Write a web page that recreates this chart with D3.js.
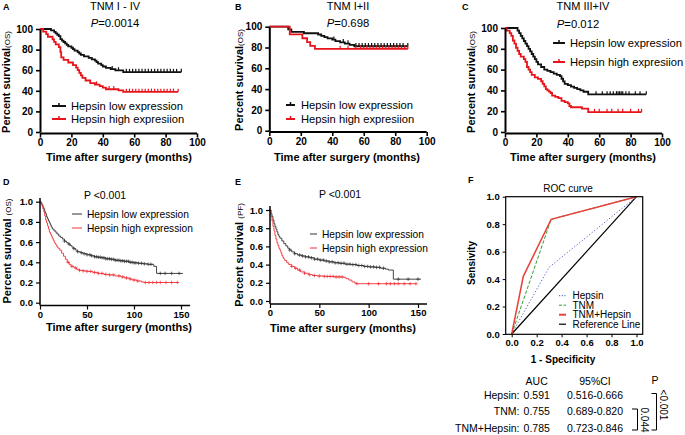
<!DOCTYPE html>
<html><head><meta charset="utf-8">
<script src="https://cdn.jsdelivr.net/npm/d3@7"></script>
<style>body{margin:0;background:#fff}svg{display:block}text{font-family:"Liberation Sans",Arial,sans-serif}</style>
</head><body><svg id="c" width="685" height="435"></svg>
<script>
// ---------- DATA ----------
const legendLabelsTop = ["Hepsin low expression", "Hepsin high expresiion"];
const legendLabelsBottom = ["Hepsin low expression", "Hepsin high expression"];
const titlesTop = ["TNM I - IV", "TNM I+II", "TNM III+IV"];
const pTop = ["0.0014", "0.698", "0.012"];
const pBottom = ["P <0.001", "P <0.001"];
const ticksTopX = [0, 20, 40, 60, 80, 100];
const ticksTopY = [0, 20, 40, 60, 80, 100];
const ticksBottomX = [0, 50, 100, 150];
const ticksUnitY = [0, 0.2, 0.4, 0.6, 0.8, 1.0];

// Panel A  [time (months), survival %]
const aLow = [[0,100],[7,98.6],[9,97.2],[10,95.8],[11,94.4],[12,93],[13,90.2],[14,88.8],[15,87.4],[16,86],[17,84.6],[18,83.2],[20,81.8],[21,80.4],[22,79],[24,77.6],[25,76.2],[26,74.8],[28,73.4],[31,72],[33,70.6],[35,69.2],[36,67.8],[37,66.4],[39,65],[40,63.6],[42,62.2],[45,61],[48,59.8],[53,58.2]];
const aLowEnd = 90;
const aLowCensor = [46,50,55,57,59,61,63,65,67,69,71,73,75,77,79,81,83,85,87,90];
const aHigh = [[0,100],[2,97.5],[4,95],[5,92.5],[8,90],[9,87.5],[10,85],[12,82.5],[13,77.5],[13.5,72.5],[15,70],[18,67.5],[21,65],[23,62.5],[24,60],[25,57.5],[26,55],[27,52.5],[29,50],[32,47.5],[35,46],[38,44.5],[40,43],[42,41.5],[50,40.5],[53,39]];
const aHighEnd = 88;
const aHighCensor = [36,44,47,55,57,59,61,63,65,67,69,71,73,75,77,79,81,83,85,88];

// Panel B
const bLow = [[0,100],[12,97.5],[14,95],[22,93.7],[31,92.5],[33,91.2],[35,90],[37,88.8],[40,87.5],[42,86.2],[45,85],[48,83.8],[51,82.5],[54,81.2]];
const bLowEnd = 88;
const bLowCensor = [41,47,50,55,57,59,61,63,65,67,69,71,73,75,77,79,81,83,85,88];
const bHigh = [[0,100],[13,92.6],[21,88.9],[24,85.2],[26,81.5],[29,78.6]];
const bHighEnd = 88;
const bHighCensor = [45,50,55,58,60,62,64,66,68,70,72,74,76,78,80,82,84,86,88];

// Panel C
const cLow = [[0,100],[8,97.5],[9,95],[10,92.5],[11,90],[12,87.5],[13,85],[14,82.5],[15,80],[16,77.5],[17,75],[18,72.5],[19,70],[20,67.5],[21,65],[23,62.5],[25,60],[27,58.7],[29,57.5],[31,56.2],[33,55],[35,53.7],[36,51.2],[37,48.7],[38,46.2],[40,45],[42,43.7],[44,42.5],[46,41.2],[48,40],[50,38.7],[53,36.2]];
const cLowEnd = 90;
const cLowCensor = [58,62,65,67,69,71,72,73,74,75,77,79,83,86,90];
const cHigh = [[0,100],[1,97.5],[3,95],[4,92.5],[5,88],[6,85],[7,81],[8,78],[9,75],[10,72.5],[12,70],[13,67.5],[14,62.5],[15,60],[16,57.5],[17,55],[19,52.5],[21,51],[23,48.8],[24,46.3],[25,43.8],[26,41.3],[27,40],[28,38.8],[29,37.5],[30,35],[32,33.8],[34,32.5],[36,30],[38,28.8],[40,27.5],[41,25],[42,23.8],[49,22.5],[53,19.2]];
const cHighEnd = 87;
const cHighCensor = [57,60,65,68,72,75,80,85,87];

// Panel D  [time, survival fraction]
const dLow = [[0,1.0],[1,0.99],[2,0.97],[3,0.95],[4,0.93],[5,0.90],[6,0.88],[7,0.85],[8,0.83],[9,0.81],[10,0.79],[11,0.77],[12,0.75],[13,0.735],[14,0.72],[16,0.70],[18,0.68],[20,0.66],[22,0.645],[24,0.63],[26,0.61],[28,0.595],[30,0.58],[32,0.565],[34,0.55],[36,0.535],[38,0.52],[40,0.505],[43,0.495],[46,0.485],[50,0.475],[54,0.465],[58,0.455],[62,0.45],[66,0.445],[70,0.435],[75,0.43],[80,0.42],[85,0.415],[90,0.41],[95,0.40],[100,0.395],[105,0.39],[110,0.385],[115,0.38],[121,0.36],[124,0.29]];
const dLowEnd = 152;
const dLowCensor = [26,31,36,40,44,47,50,53,55,58,60,62,64,66,68,70,72,74,76,78,80,82,84,86,88,90,92,94,96,98,100,102,105,108,111,115,118,128,133,140,148];
const dHigh = [[0,1.0],[1,0.98],[2,0.96],[3,0.93],[4,0.90],[5,0.86],[6,0.82],[7,0.79],[8,0.76],[9,0.73],[10,0.70],[11,0.68],[12,0.66],[13,0.64],[14,0.62],[15,0.60],[16,0.585],[17,0.57],[18,0.555],[19,0.54],[21,0.52],[23,0.49],[25,0.46],[27,0.43],[29,0.40],[31,0.38],[33,0.36],[36,0.345],[39,0.33],[42,0.32],[46,0.315],[50,0.31],[56,0.30],[62,0.29],[68,0.28],[74,0.275],[80,0.265],[86,0.255],[90,0.245],[95,0.235],[98,0.225],[103,0.215],[108,0.205],[111,0.20]];
const dHighEnd = 148;
const dHighCensor = [30,34,38,42,46,50,54,58,62,66,70,74,78,84,88,92,96,100,104,112,116,120,124,128,134,140,146];

// Panel E
const eLow = [[0,1.0],[1,0.96],[2,0.93],[3,0.89],[4,0.85],[5,0.82],[6,0.79],[7,0.76],[8,0.73],[9,0.71],[10,0.69],[12,0.66],[14,0.63],[16,0.605],[18,0.58],[20,0.56],[22,0.54],[25,0.52],[28,0.505],[32,0.495],[36,0.485],[40,0.475],[45,0.46],[50,0.45],[55,0.44],[60,0.43],[65,0.42],[70,0.415],[76,0.405],[82,0.40],[88,0.39],[95,0.38],[100,0.375],[106,0.37],[112,0.36],[117,0.35],[120,0.34],[125,0.24]];
const eLowEnd = 153;
const eLowCensor = [20,25,30,33,36,39,42,45,48,51,54,57,60,63,66,69,72,75,78,81,84,87,90,93,96,99,102,105,108,111,115,130,140,150];
const eHigh = [[0,1.0],[1,0.93],[2,0.88],[3,0.82],[4,0.77],[5,0.72],[6,0.68],[7,0.64],[8,0.61],[9,0.58],[10,0.56],[11,0.53],[12,0.50],[13,0.48],[14,0.46],[15,0.445],[17,0.42],[19,0.40],[22,0.38],[25,0.36],[28,0.34],[31,0.32],[35,0.305],[39,0.29],[43,0.28],[48,0.275],[55,0.27],[65,0.265],[74,0.26],[77,0.245],[80,0.23],[83,0.21],[86,0.195],[88,0.19]];
const eHighEnd = 148;
const eHighCensor = [22,26,30,35,40,45,50,55,58,61,64,67,70,73,88,100,110,118,122,126,130,136,142,148];

// Panel F  ROC  [1-specificity, sensitivity]
const rocHepsin = [[0,0],[0.30,0.486],[1,1]];
const rocTNM = [[0,0],[0.316,0.835],[1,1]];
const rocBoth = [[0,0],[0.093,0.42],[0.316,0.835],[1,1]];
const rocRef = [[0,0],[1,1]];
const rocLegend = ["Hepsin", "TNM", "TNM+Hepsin", "Reference Line"];
const tableHeader = ["AUC", "95%CI", "P"];
const tableRows = ["Hepsin:", "TNM:", "TNM+Hepsin:"];
const tableAUC = ["0.591", "0.755", "0.785"];
const tableCI = ["0.516-0.666", "0.689-0.820", "0.723-0.846"];
const pSmall = "0.044", pBig = "<0.001";

// ---------- DRAW ----------
const svg = d3.select('#c');
const RED = '#e8141c';
const BLK = '#111';

function survAt(steps, t){ let s = steps[0][1]; for (const p of steps) if (p[0] <= t) s = p[1]; return s; }

function kmPanel(o){
  const g = svg.append('g');
  const x = d3.scaleLinear().domain(o.xDomain).range(o.xRange);
  const y = d3.scaleLinear().domain(o.yDomain).range(o.yRange);
  const line = d3.line().x(d => x(d[0])).y(d => y(d[1])).curve(d3.curveStepAfter);
  o.series.forEach(s => {
    const pts = s.steps.concat([[s.end, s.steps[s.steps.length-1][1]]]);
    g.append('path').attr('d', line(pts)).attr('fill','none').attr('stroke', s.color).attr('stroke-width', o.lw);
    s.censor.forEach(t => {
      const cx = x(t), cy = y(survAt(s.steps, t));
      if (o.plus) {
        g.append('path').attr('d', `M${cx-1.8},${cy}H${cx+1.8}M${cx},${cy-1.8}V${cy+1.8}`).attr('stroke', s.color).attr('stroke-width', 0.7);
      } else {
        g.append('line').attr('x1',cx).attr('x2',cx).attr('y1',cy-3.2).attr('y2',cy).attr('stroke', s.color).attr('stroke-width', 1.2);
      }
    });
  });
  // axes
  const xa = d3.axisBottom(x).tickValues(o.xTicks).tickSize(4).tickSizeOuter(0).tickFormat(o.xFmt || d3.format('d'));
  const ya = d3.axisLeft(y).tickValues(o.yTicks).tickSize(4).tickSizeOuter(0).tickFormat(o.yFmt || d3.format('d'));
  const gx = g.append('g').attr('transform', `translate(0,${o.xAxisY})`).call(xa);
  const gy = g.append('g').attr('transform', `translate(${o.xRange[0]},0)`).call(ya);
  [gx, gy].forEach(a => {
    a.select('.domain').attr('stroke', '#000').attr('stroke-width', o.aw);
    a.selectAll('.tick line').attr('stroke', '#000').attr('stroke-width', o.aw*0.8);
    a.selectAll('.tick text').attr('font-family','"Liberation Sans",Arial,sans-serif').attr('font-size', o.tfs).attr('font-weight','bold').attr('fill','#000');
  });
  gx.selectAll('.tick text').attr('dy', '0.55em');
  if (o.yAxisExt) gy.select('.domain').attr('d', `M0,${o.xAxisY}V${o.yAxisExt}`);
  gx.select('.domain').attr('d', `M${o.xRange[0]},0H${o.xAxisEnd || o.xRange[1]}`);
  // axis titles
  g.append('text').attr('x', o.xl[0]).attr('y', o.xl[1]).attr('dy','0.35em').attr('text-anchor','middle')
    .attr('font-size', 11).attr('font-weight','bold').text('Time after surgery (months)');
  const yt = g.append('text').attr('transform', `translate(${o.yl[0]},${o.yl[1]}) rotate(-90)`).attr('dy','0.35em')
    .attr('text-anchor','middle').attr('font-size', 11).attr('font-weight','bold').text(o.ylText);
  yt.append('tspan').attr('font-size', 8).attr('font-weight','normal').text(o.ylSub);
  // legend
  o.legend.forEach((lab, i) => {
    const ly = o.leg[1] + i*o.leg[3];
    const col = o.series[i].color;
    g.append('line').attr('x1', o.leg[0]).attr('x2', o.leg[0]+o.leg[4]).attr('y1', ly).attr('y2', ly).attr('stroke', col).attr('stroke-width', o.plus ? 1 : 2);
    if (!o.plus) g.append('line').attr('x1', o.leg[0]+o.leg[4]/2).attr('x2', o.leg[0]+o.leg[4]/2).attr('y1', ly-3).attr('y2', ly).attr('stroke', col).attr('stroke-width', 1.5);
    g.append('text').attr('x', o.leg[2]).attr('y', ly).attr('dy','0.35em').attr('font-size', o.lfs).text(lab);
  });
  return g;
}

const yPct = 'Percent survival';
// A
kmPanel({xDomain:[0,100], xRange:[40,197], yDomain:[0,100], yRange:[132,29], xAxisY:133.5, xTicks:ticksTopX, yTicks:ticksTopY,
  series:[{steps:aLow,end:aLowEnd,censor:aLowCensor,color:BLK},{steps:aHigh,end:aHighEnd,censor:aHighCensor,color:RED}],
  lw:1.8, aw:2, tfs:10, xl:[119,157], yl:[6,82], ylText:yPct, ylSub:'(OS)', legend:legendLabelsTop, leg:[52,106,71,13,14], lfs:11.2});
// B
kmPanel({xDomain:[0,100], xRange:[269.3,426.7], yDomain:[0,100], yRange:[130.7,26.7], xAxisY:132, xTicks:ticksTopX, yTicks:ticksTopY,
  series:[{steps:bLow,end:bLowEnd,censor:bLowCensor,color:BLK},{steps:bHigh,end:bHighEnd,censor:bHighCensor,color:RED}],
  lw:1.8, aw:2, tfs:10, xl:[347,157], yl:[239,80], ylText:yPct, ylSub:'(OS)', legend:legendLabelsTop, leg:[286,105,301,14,9], lfs:11.2});
// C
kmPanel({xDomain:[0,100], xRange:[505,662], yDomain:[0,100], yRange:[132,28], xAxisY:133.5, xTicks:ticksTopX, yTicks:ticksTopY,
  series:[{steps:cLow,end:cLowEnd,censor:cLowCensor,color:BLK},{steps:cHigh,end:cHighEnd,censor:cHighCensor,color:RED}],
  lw:1.8, aw:2, tfs:10, xl:[583,157], yl:[471,82], ylText:yPct, ylSub:'(OS)', legend:legendLabelsTop, leg:[553,43,570,19,12], lfs:11.2});
// D
kmPanel({xDomain:[0,150], xRange:[40,181], xAxisEnd:190, yDomain:[0,1], yRange:[302.7,201.7], xAxisY:305.5, yAxisExt:198, xTicks:ticksBottomX, yTicks:ticksUnitY,
  xFmt:d3.format('d'), yFmt:d3.format('.1f'), plus:true,
  series:[{steps:dLow,end:dLowEnd,censor:dLowCensor,color:'#333'},{steps:dHigh,end:dHighEnd,censor:dHighCensor,color:'#f0323a'}],
  lw:0.9, aw:1.5, tfs:9.5, xl:[119,327], yl:[7,251], ylText:'Percent survival ', ylSub:'(OS)', legend:legendLabelsBottom, leg:[72,214,87,14,10], lfs:10.2});
// E
kmPanel({xDomain:[0,150], xRange:[270,418], xAxisEnd:427, yDomain:[0,1], yRange:[301,210], xAxisY:304, yAxisExt:206, xTicks:ticksBottomX, yTicks:ticksUnitY,
  xFmt:d3.format('d'), yFmt:d3.format('.1f'), plus:true,
  series:[{steps:eLow,end:eLowEnd,censor:eLowCensor,color:'#333'},{steps:eHigh,end:eHighEnd,censor:eHighCensor,color:'#f0323a'}],
  lw:0.9, aw:1.5, tfs:9.5, xl:[343,328], yl:[239,255], ylText:'Percent survival ', ylSub:'(PF)', legend:legendLabelsBottom, leg:[310,234,322,14,7], lfs:10.2});

// titles
const titleX = [115, 348, 583];
const pX = [115, 348, 578];
titlesTop.forEach((t,i) => {
  svg.append('text').attr('x', titleX[i]).attr('y', 10).attr('text-anchor','middle').attr('font-size', 11).text(t);
  const pt = svg.append('text').attr('x', pX[i]).attr('y', i===2 ? 28 : 27).attr('text-anchor','middle').attr('font-size', 11.3);
  pt.append('tspan').attr('font-style','italic').text('P');
  pt.append('tspan').text('=' + pTop[i]);
});
svg.append('text').attr('x',105).attr('y',199).attr('text-anchor','middle').attr('font-size',10.5).text(pBottom[0]);
svg.append('text').attr('x',340).attr('y',198).attr('text-anchor','middle').attr('font-size',10.5).text(pBottom[1]);

// panel letters
[['A',3,10],['B',235,10],['C',462,10],['D',3,185],['E',235,185],['F',468,183]].forEach(d => {
  svg.append('text').attr('x',d[1]).attr('y',d[2]).attr('font-size',9).attr('font-weight','bold').text(d[0]);
});

// ---------- F: ROC ----------
const fx = d3.scaleLinear().domain([0,1]).range([511.7,636.5]);
const fy = d3.scaleLinear().domain([0,1]).range([334,196.7]);
const fg = svg.append('g');
const rl = d3.line().x(d => fx(d[0])).y(d => fy(d[1]));
fg.append('path').attr('d', rl(rocRef)).attr('fill','none').attr('stroke','#000').attr('stroke-width',1.2);
fg.append('path').attr('d', rl(rocHepsin)).attr('fill','none').attr('stroke','#4a5fc0').attr('stroke-width',1).attr('stroke-dasharray','1.2,2');
fg.append('path').attr('d', rl(rocTNM)).attr('fill','none').attr('stroke','#2ca02c').attr('stroke-width',1).attr('stroke-dasharray','3.5,1.8');
fg.append('path').attr('d', rl(rocBoth)).attr('fill','none').attr('stroke','#e8403a').attr('stroke-width',1.5);
fg.append('rect').attr('x',505.7).attr('y',196.7).attr('width',137).attr('height',137.6).attr('fill','none').attr('stroke','#000').attr('stroke-width',1.2);
const fxa = d3.axisBottom(fx).tickValues(ticksUnitY).tickSize(3).tickSizeOuter(0).tickFormat(d3.format('.1f'));
const fya = d3.axisLeft(fy).tickValues(ticksUnitY).tickSize(3).tickSizeOuter(0).tickFormat(d3.format('.1f'));
const fgx = fg.append('g').attr('transform','translate(0,334.3)').call(fxa);
const fgy = fg.append('g').attr('transform','translate(505.7,0)').call(fya);
[fgx, fgy].forEach(a => {
  a.select('.domain').remove();
  a.selectAll('.tick line').attr('stroke','#000').attr('stroke-width',1);
  a.selectAll('.tick text').attr('font-family','"Liberation Sans",Arial,sans-serif').attr('font-size',9.5).attr('font-weight','bold').attr('fill','#000');
});
fgx.selectAll('.tick text').attr('dy','0.6em');
fg.append('text').attr('x',568).attr('y',191.5).attr('text-anchor','middle').attr('font-size',10).text('ROC curve');
fg.append('text').attr('x',563).attr('y',363).attr('text-anchor','middle').attr('font-size',10).attr('font-weight','bold').text('1 - Specificity');
fg.append('text').attr('transform','translate(471,263) rotate(-90)').attr('dy','0.35em').attr('text-anchor','middle').attr('font-size',10).attr('font-weight','bold').text('Sensivity');
// ROC legend
const legStyles = [
  {c:'#4a5fc0', w:1, da:'1.2,1.5'}, {c:'#2ca02c', w:1, da:'3,1.5'}, {c:'#e8403a', w:2, da:null}, {c:'#000', w:1.2, da:null}];
rocLegend.forEach((lab,i) => {
  const ly = 295.7 + i*9.5;
  const l = fg.append('line').attr('x1',559).attr('x2',566).attr('y1',ly).attr('y2',ly).attr('stroke',legStyles[i].c).attr('stroke-width',legStyles[i].w);
  if (legStyles[i].da) l.attr('stroke-dasharray', legStyles[i].da);
  fg.append('text').attr('x',572.5).attr('y',ly).attr('dy','0.35em').attr('font-size',10).text(lab);
});
// table
const tfs = 10.5;
fg.append('text').attr('x',536.7).attr('y',385).attr('text-anchor','middle').attr('font-size',tfs).text(tableHeader[0]);
fg.append('text').attr('x',595).attr('y',385).attr('text-anchor','middle').attr('font-size',tfs).text(tableHeader[1]);
fg.append('text').attr('x',655).attr('y',383.5).attr('text-anchor','middle').attr('font-size',tfs).text(tableHeader[2]);
const rowY = [398.5, 415, 432];
tableRows.forEach((r,i) => {
  fg.append('text').attr('x',519.5).attr('y',rowY[i]).attr('text-anchor','end').attr('font-size',tfs).text(r);
  fg.append('text').attr('x',536.7).attr('y',rowY[i]).attr('text-anchor','middle').attr('font-size',tfs).text(tableAUC[i]);
  fg.append('text').attr('x',595).attr('y',rowY[i]).attr('text-anchor','middle').attr('font-size',tfs).text(tableCI[i]);
});
fg.append('path').attr('d','M632,409H637.5V430H632').attr('fill','none').attr('stroke','#000').attr('stroke-width',1);
fg.append('path').attr('d','M651.5,393.5H656.5V430H651.5').attr('fill','none').attr('stroke','#000').attr('stroke-width',1);
fg.append('text').attr('transform','translate(644.3,420) rotate(90)').attr('dy','0.35em').attr('text-anchor','middle').attr('font-size',10).text(pSmall);
fg.append('text').attr('transform','translate(663.3,405) rotate(90)').attr('dy','0.35em').attr('text-anchor','middle').attr('font-size',10).text(pBig);
</script></body></html>
